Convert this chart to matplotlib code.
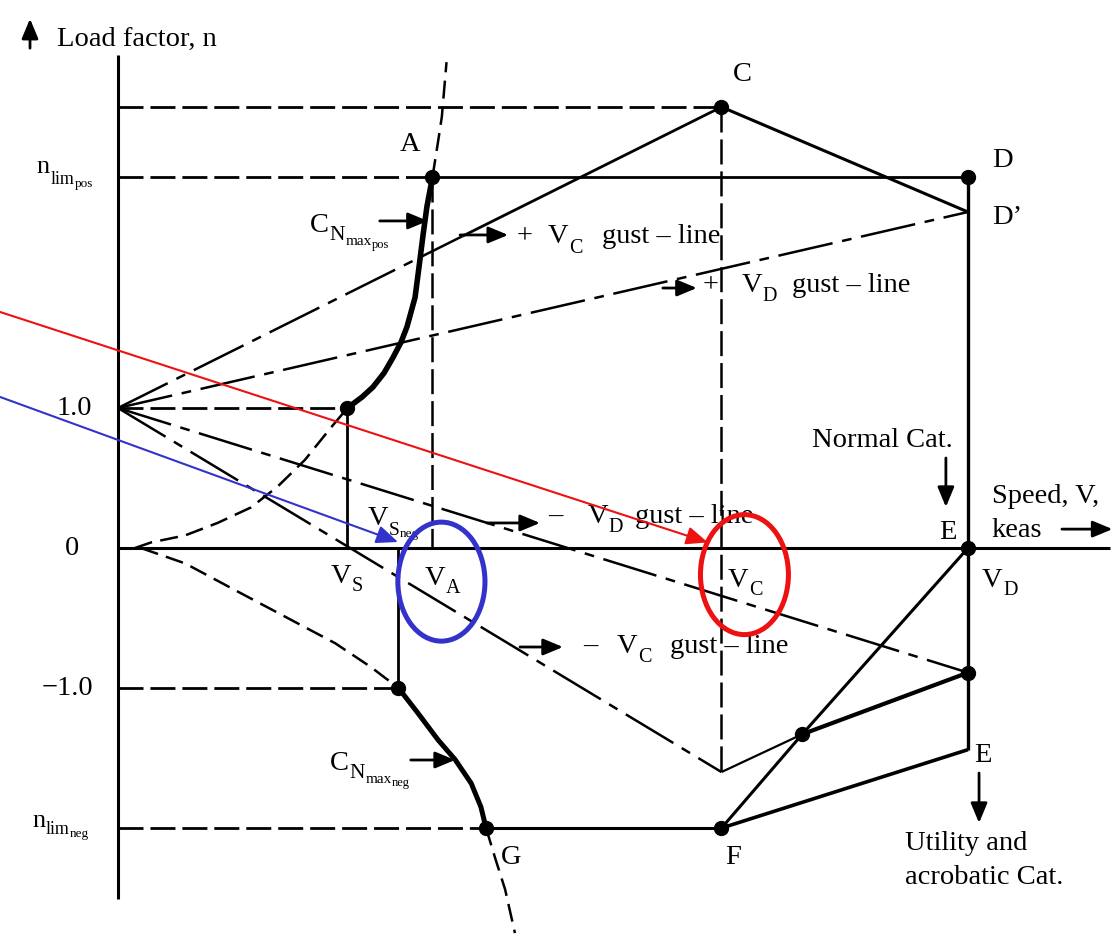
import matplotlib.pyplot as plt
from matplotlib.patches import Ellipse

plt.rcParams['font.family'] = 'Liberation Serif'
plt.rcParams['lines.scale_dashes'] = False

# speeds (keas)
V_S = 54
V_S_NEG = 66
V_A = 74
V_C = 142
V_D = 200
V_G = 86.6
V_X = 161          # F-E line crossing the negative gust envelope
V_GUST_SOLID = 81  # +Vc gust line drawn solid from here on

# load factors
N_LIM_POS = 2.65
N_LIM_NEG = -2.0
N_C = 3.15
N_D_PRIME = 2.4
N_VC_NEG = -1.6
N_VD_NEG = -0.89
N_E_UTIL = -1.44
N_X = -1.33

# positive stall curve (CN max pos)
stall_pos_low_v = [4.0, 7.8, 15.8, 23.5, 31.3, 37.6, 44.0, 50.1, 54.0]
stall_pos_low_n = [0.0, 0.04, 0.09, 0.18, 0.29, 0.44, 0.63, 0.86, 1.0]
stall_pos_v = [54.0, 57.5, 60.0, 62.6, 64.7, 66.6, 68.0, 69.9, 70.8, 71.8, 72.7, 74.0]
stall_pos_n = [1.0, 1.08, 1.15, 1.25, 1.36, 1.47, 1.58, 1.79, 2.0, 2.24, 2.44, 2.65]
stall_pos_high_v = [74.0, 75.3, 76.2, 77.3]
stall_pos_high_n = [2.65, 2.9, 3.08, 3.47]

# negative stall curve (CN max neg)
stall_neg_low_v = [5.4, 15.8, 27.5, 39.3, 51.1, 59.5, 66.0]
stall_neg_low_n = [0.0, -0.11, -0.30, -0.49, -0.68, -0.85, -1.0]
stall_neg_v = [66.0, 70.6, 75.3, 79.3, 83.1, 85.4, 86.6]
stall_neg_n = [-1.0, -1.18, -1.37, -1.51, -1.68, -1.85, -2.0]
stall_neg_high_v = [86.6, 88.7, 91.1, 93.4]
stall_neg_high_n = [-2.0, -2.21, -2.44, -2.75]

REF_DASH = (0, (18, 5))
CURVE_DASH = (0, (13, 6))
GUST_DASH = (0, (40, 7, 7, 7))

fig = plt.figure(figsize=(11.19, 9.36), dpi=100)
ax = fig.add_axes([0, 0, 1, 1])
ax.set_xlim(-27.76, 235.53)
ax.set_ylim(-2.771, 3.914)
ax.axis('off')


def line(v, n, style='-', lw=2.2):
    ax.plot(v, n, color='black', linestyle=style, linewidth=lw,
            solid_capstyle='butt', dash_capstyle='butt', zorder=3)


def arrow(tail, tip, color='black', lw=2.0, scale=20, z=4):
    ax.annotate('', xy=tip, xytext=tail,
                arrowprops=dict(arrowstyle='-|>,head_length=0.6,head_width=0.25',
                                color=color, lw=lw, mutation_scale=scale,
                                shrinkA=0, shrinkB=0), zorder=z)


def sub_label(v, n, parts):
    # parts: (text, size, drop) - each one hangs off the lower right of the previous
    txt, size, _ = parts[0]
    prev = ax.text(v, n, txt, fontsize=size, ha='left', va='baseline')
    for txt, size, drop in parts[1:]:
        prev = ax.annotate(txt, xy=(1, 0), xycoords=prev, xytext=(0.3, -drop),
                           textcoords='offset points', fontsize=size,
                           ha='left', va='baseline')


# axes
line([0, 0], [3.52, -2.51], lw=2.2)
line([0, 233.5], [0, 0], lw=2.2)

# reference lines
line([0, V_C], [N_C, N_C], REF_DASH, 2.0)
line([0, V_A], [N_LIM_POS, N_LIM_POS], REF_DASH, 2.0)
line([0, V_S], [1, 1], REF_DASH, 2.0)
line([0, V_S_NEG], [-1, -1], REF_DASH, 2.0)
line([0, V_G], [N_LIM_NEG, N_LIM_NEG], REF_DASH, 2.0)
line([V_A, V_A], [N_LIM_POS, 0], REF_DASH, 1.8)
line([V_C, V_C], [N_C, N_VC_NEG], REF_DASH, 1.8)

# stall curves
line(stall_pos_low_v, stall_pos_low_n, CURVE_DASH, 1.8)
line(stall_pos_v, stall_pos_n, '-', 4.0)
line(stall_pos_high_v, stall_pos_high_n, CURVE_DASH, 1.8)
line(stall_neg_low_v, stall_neg_low_n, CURVE_DASH, 1.8)
line(stall_neg_v, stall_neg_n, '-', 3.6)
line(stall_neg_high_v, stall_neg_high_n, CURVE_DASH, 1.8)

# gust lines
n_split = 1 + (N_C - 1) * V_GUST_SOLID / V_C
line([0, V_GUST_SOLID], [1, n_split], GUST_DASH, 1.8)
line([V_GUST_SOLID, V_C], [n_split, N_C], '-', 2.0)
line([0, V_D], [1, N_D_PRIME], GUST_DASH, 1.8)
line([0, V_C], [1, N_VC_NEG], GUST_DASH, 1.8)
line([0, V_D], [1, N_VD_NEG], GUST_DASH, 1.8)

# envelope
line([V_S, V_S], [1, 0], '-', 2.0)
line([V_S_NEG, V_S_NEG], [0, -1], '-', 2.0)
line([V_A, V_D], [N_LIM_POS, N_LIM_POS], '-', 2.0)
line([V_C, V_D], [N_C, N_D_PRIME], '-', 2.2)
line([V_D, V_D], [N_LIM_POS, N_E_UTIL], '-', 2.4)
line([V_G, V_C], [N_LIM_NEG, N_LIM_NEG], '-', 2.2)
line([V_C, V_D], [N_LIM_NEG, N_E_UTIL], '-', 2.6)
line([V_C, V_X, V_D], [N_LIM_NEG, N_X, 0], '-', 2.2)
line([V_C, V_X], [N_VC_NEG, N_X], '-', 1.6)
line([V_X, V_D], [N_X, N_VD_NEG], '-', 3.0)

# corner points
pts_v = [V_S, V_A, V_C, V_D, V_S_NEG, V_G, V_C, V_D, V_D, V_X]
pts_n = [1, N_LIM_POS, N_C, N_LIM_POS, -1, N_LIM_NEG, N_LIM_NEG, 0, N_VD_NEG, N_X]
ax.plot(pts_v, pts_n, 'o', color='black', markersize=10, zorder=5)

FS = 20.5
SUB = 14.5
kw = dict(fontsize=FS, color='black')

ax.text(-14.35, 3.63, 'Load factor, n', ha='left', va='center', **kw)
arrow((-20.7, 3.57), (-20.7, 3.78))
sub_label(-19.1, 2.68, [('n', 19, 0), ('lim', 13, 4.5), ('pos', 9.5, -0.6)])
ax.text(-6.1, 1.0, '1.0', ha='right', va='center', **kw)
ax.text(-10.8, 0.0, '0', ha='center', va='center', **kw)
ax.text(-5.9, -1.0, '\u22121.0', ha='right', va='center', **kw)
sub_label(-20.2, -1.99, [('n', 19, 0), ('lim', 13, 1.7), ('neg', 9.5, -0.6)])

ax.text(68.7, 2.88, 'A', ha='center', va='center', **kw)
ax.text(146.8, 3.38, 'C', ha='center', va='center', **kw)
ax.text(208.2, 2.77, 'D', ha='center', va='center', **kw)
ax.text(205.6, 2.36, 'D\u2019', ha='left', va='center', **kw)

sub_label(45.2, 2.257, [('C', FS, 0), ('N', 15.5, 1.4), ('max', 11, 0.2), ('pos', 9, -0.2)])
arrow((61.6, 2.336), (72.9, 2.336))
sub_label(49.9, -1.586, [('C', FS, 0), ('N', 15.5, 1.4), ('max', 11, 0.2), ('neg', 9, -0.2)])
arrow((68.9, -1.514), (79.3, -1.514))

# gust line captions
arrow((80.5, 2.236), (91.8, 2.236))
ax.text(93.9, 2.175, '+', ha='left', va='baseline', **kw)
sub_label(101.2, 2.175, [('V', FS, 0), ('C', SUB, 2.4)])
ax.text(113.9, 2.175, 'gust \u2013 line', ha='left', va='baseline', **kw)

arrow((128.2, 1.857), (136.2, 1.857))
ax.text(137.6, 1.829, '+', ha='left', va='baseline', **kw)
sub_label(146.8, 1.829, [('V', FS, 0), ('D', SUB, 2.0)])
ax.text(158.6, 1.829, 'gust \u2013 line', ha='left', va='baseline', **kw)

arrow((86.8, 0.179), (99.3, 0.179))
ax.text(101.2, 0.179, '\u2013', ha='left', va='baseline', **kw)
sub_label(110.4, 0.179, [('V', FS, 0), ('D', SUB, 2.0)])
ax.text(121.6, 0.179, 'gust \u2013 line', ha='left', va='baseline', **kw)

arrow((94.6, -0.707), (104.7, -0.707))
ax.text(109.4, -0.75, '\u2013', ha='left', va='baseline', **kw)
sub_label(117.4, -0.75, [('V', FS, 0), ('C', SUB, 2.0)])
ax.text(129.9, -0.75, 'gust \u2013 line', ha='left', va='baseline', **kw)

# speed marks
sub_label(58.8, 0.164, [('V', FS, 0), ('S', 14, 2.6), ('neg', 9.5, -1.4)])
sub_label(50.1, -0.25, [('V', FS, 0), ('S', SUB, 1.6)])
sub_label(72.2, -0.264, [('V', FS, 0), ('A', SUB, 1.6)])
sub_label(143.5, -0.279, [('V', FS, 0), ('C', SUB, 1.6)])
sub_label(203.3, -0.279, [('V', FS, 0), ('D', SUB, 1.6)])

ax.text(163.3, 0.72, 'Normal Cat.', ha='left', va='baseline', **kw)
arrow((194.8, 0.643), (194.8, 0.293))
ax.text(195.3, 0.114, 'E', ha='center', va='center', **kw)
ax.text(205.6, 0.321, 'Speed, V,', ha='left', va='baseline', **kw)
ax.text(205.6, 0.079, 'keas', ha='left', va='baseline', **kw)
arrow((222.1, 0.135), (234.0, 0.135))

ax.text(92.5, -2.207, 'G', ha='center', va='center', **kw)
ax.text(144.7, -2.207, 'F', ha='center', va='center', **kw)
ax.text(203.5, -1.479, 'E', ha='center', va='center', **kw)
arrow((202.6, -1.607), (202.6, -1.964))
ax.text(185.2, -2.107, 'Utility and', ha='left', va='center', **kw)
ax.text(185.2, -2.35, 'acrobatic Cat.', ha='left', va='center', **kw)

# highlighted speeds
RED = '#ee1111'
BLUE = '#3333cc'
arrow((-27.76, 1.686), (138.8, 0.04), color=RED, lw=1.5, scale=22, z=6)
arrow((-27.76, 1.079), (65.9, 0.043), color=BLUE, lw=1.5, scale=22, z=6)
ax.add_patch(Ellipse((147.4, -0.19), 20.7, 0.857, fill=False, ec=RED, lw=3.6, zorder=6))
ax.add_patch(Ellipse((76.1, -0.24), 20.5, 0.85, fill=False, ec=BLUE, lw=3.6, zorder=6))

fig.savefig('out.png', dpi=100)
